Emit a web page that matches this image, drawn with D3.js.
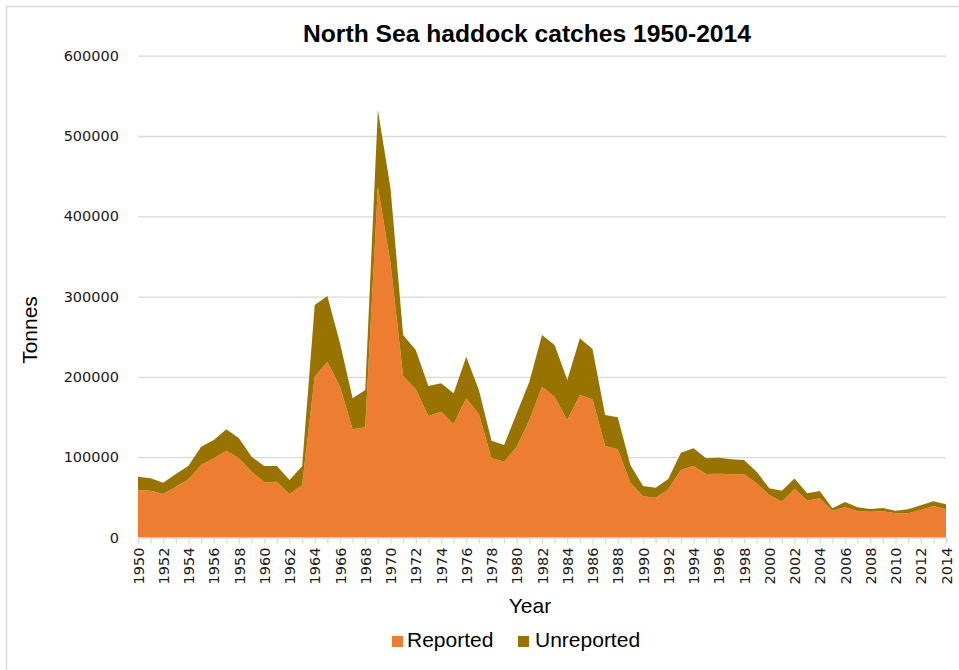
<!DOCTYPE html>
<html>
<head>
<meta charset="utf-8">
<script src="https://cdn.jsdelivr.net/npm/d3@7"></script>
<style>
  html, body { margin: 0; padding: 0; background: #fff; }
  svg { display: block; }
</style>
</head>
<body>
<svg id="chart" width="959" height="670"></svg>
<script>
const years = d3.range(1950, 2015);
const reported = [
  59200, 58300, 54200, 63300, 72500, 90300, 98600, 108100, 98600, 82000,
  68700, 69500, 54200, 65400, 200600, 219000, 187800, 134700, 137200, 436900,
  341500, 201100, 184600, 151300, 156700, 141300, 173300, 153800, 98600, 94400,
  113100, 146300, 187800, 175300, 146300, 177500, 172100, 113900, 109800, 68300,
  51500, 49600, 60000, 84100, 89000, 79100, 79500, 78700, 78700, 67500,
  52900, 44600, 60600, 45800, 48800, 33400, 37600, 33000, 32100, 32600,
  30100, 30100, 34200, 39200, 35100
];
const unreported = [
  16500, 15400, 14100, 15800, 16900, 22700, 22800, 26600, 24900, 18600,
  20300, 19500, 17400, 23400, 88900, 81700, 54000, 38600, 46500, 95500,
  93400, 51100, 48900, 37400, 35300, 38300, 51900, 29900, 22000, 20800,
  41600, 47700, 64400, 64400, 49800, 70500, 62600, 38700, 39900, 22000,
  12600, 12400, 12900, 21500, 22100, 19500, 19900, 18700, 17800, 14500,
  8400, 13700, 12900, 9200, 9100, 2900, 6600, 4600, 3400, 4100,
  3300, 5000, 5900, 5900, 6200
];
const seriesNames = ["Reported", "Unreported"];
const yTicks = [0, 100000, 200000, 300000, 400000, 500000, 600000];
const title = "North Sea haddock catches 1950-2014";
const xTitle = "Year";
const yTitle = "Tonnes";

const colors = { Reported: "#ED7D31", Unreported: "#997300" };

const svg = d3.select("#chart");
const W = 959, H = 670;
const plot = { left: 138, right: 946, top: 55.7, bottom: 537.5 };

// frame
svg.append("path")
  .attr("d", `M6.5,${H} L6.5,6.5 L${W},6.5`)
  .attr("fill", "none").attr("stroke", "#d9d9d9").attr("stroke-width", 1.5);

const x = d3.scaleLinear().domain([1950, 2014]).range([plot.left, plot.right]);
const y = d3.scaleLinear().domain([0, 600000]).range([plot.bottom, plot.top]);

// gridlines + y labels
const yAxis = svg.append("g")
  .attr("transform", `translate(${plot.left},0)`)
  .call(d3.axisLeft(y).tickValues(yTicks).tickSize(-(plot.right - plot.left)).tickPadding(19).tickFormat(d3.format("d")));
yAxis.select(".domain").remove();
yAxis.selectAll(".tick line").attr("stroke", "#d9d9d9").attr("stroke-width", 1.3);
yAxis.selectAll(".tick text")
  .attr("font-family", "DejaVu Sans").attr("font-size", 14.5).attr("fill", "#1a1a1a");

// stacked areas
const table = years.map((yr, i) => ({ year: yr, Reported: reported[i], Unreported: unreported[i] }));
const stack = d3.stack().keys(seriesNames)(table);
const area = d3.area()
  .x(d => x(d.data.year))
  .y0(d => y(d[0]))
  .y1(d => y(d[1]));
svg.append("g").selectAll("path").data(stack).join("path")
  .attr("d", area)
  .attr("fill", d => colors[d.key]);

// x axis
const xAxis = svg.append("g")
  .attr("transform", `translate(0,${plot.bottom})`)
  .call(d3.axisBottom(x).tickValues(years).tickSize(6).tickPadding(10)
    .tickFormat(d => (d % 2 === 0 ? String(d) : "")));
xAxis.select(".domain").attr("stroke", "#d9d9d9").attr("stroke-width", 1.3);
xAxis.selectAll(".tick line").attr("stroke", "#d9d9d9").attr("stroke-width", 1.3);
xAxis.selectAll(".tick text")
  .attr("font-family", "DejaVu Sans").attr("font-size", 14.5).attr("fill", "#1a1a1a")
  .attr("text-anchor", "end")
  .attr("transform", "rotate(-90)")
  .attr("x", -10).attr("y", 0).attr("dy", "0.35em");

// title
svg.append("text")
  .attr("x", 527).attr("y", 41.5)
  .attr("text-anchor", "middle")
  .attr("font-family", "Liberation Sans, Arial, sans-serif")
  .attr("font-weight", "bold").attr("font-size", 23)
  .attr("textLength", 448).attr("lengthAdjust", "spacingAndGlyphs")
  .attr("fill", "#000")
  .text(title);

// axis titles
svg.append("text")
  .attr("x", 530).attr("y", 613)
  .attr("text-anchor", "middle")
  .attr("font-family", "Liberation Sans, Arial, sans-serif")
  .attr("font-size", 21).attr("fill", "#000")
  .text(xTitle);
svg.append("text")
  .attr("transform", "translate(37,330) rotate(-90)")
  .attr("text-anchor", "middle")
  .attr("font-family", "Liberation Sans, Arial, sans-serif")
  .attr("font-size", 21).attr("fill", "#000")
  .text(yTitle);

// legend
const legendItems = [
  { name: seriesNames[0], sx: 392, tx: 407 },
  { name: seriesNames[1], sx: 518, tx: 535 }
];
const lg = svg.append("g");
legendItems.forEach(it => {
  lg.append("rect").attr("x", it.sx).attr("y", 636).attr("width", 11).attr("height", 11)
    .attr("fill", colors[it.name]);
  lg.append("text").attr("x", it.tx).attr("y", 647)
    .attr("font-family", "Liberation Sans, Arial, sans-serif")
    .attr("font-size", 21).attr("fill", "#000")
    .text(it.name);
});
</script>
</body>
</html>
